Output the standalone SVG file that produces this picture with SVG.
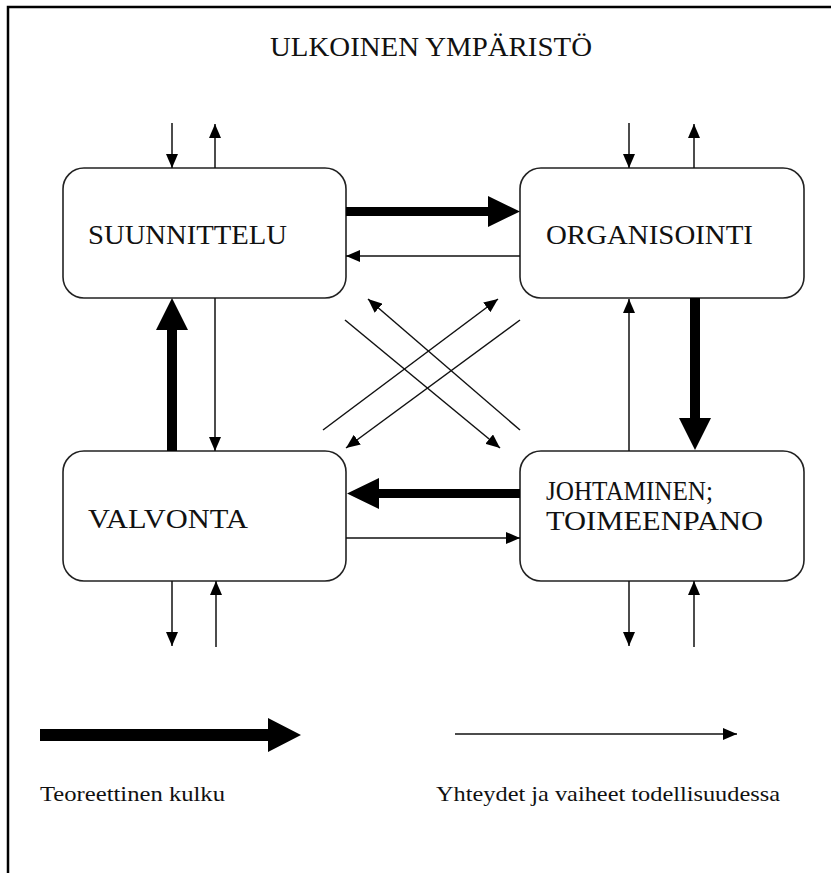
<svg xmlns="http://www.w3.org/2000/svg" width="831" height="873" viewBox="0 0 831 873">
  <style>
    .frame { fill: none; stroke: #000; stroke-width: 2.5; }
    .box { fill: #fff; stroke: #222; stroke-width: 1.6; }
    .label { font-family: "Liberation Serif", "Times New Roman", serif; font-size: 28px; fill: #111; }
    .legend { font-family: "Liberation Serif", "Times New Roman", serif; font-size: 21px; fill: #111; }
    .thin { fill: none; stroke: #111; stroke-width: 1.5; marker-end: url(#head); }
    .thick { fill: #000; stroke: none; }
  </style>
  <defs>
    <marker id="head" viewBox="0 0 14 12" refX="14" refY="6" markerWidth="14" markerHeight="12" markerUnits="userSpaceOnUse" orient="auto">
      <path d="M0,0 L14,6 L0,12 Z" fill="#000"/>
    </marker>
  </defs>

  <rect width="831" height="873" fill="#fff"/>
  <!-- page frame: top and left edges -->
  <path class="frame" d="M8,873 V7 H831"/>

  <text class="label" x="270" y="56" textLength="322" lengthAdjust="spacingAndGlyphs">ULKOINEN YMPÄRISTÖ</text>

  <g id="suunnittelu">
    <rect class="box" x="63" y="168" width="283" height="130" rx="21" ry="21"/>
    <text class="label" x="88" y="244" textLength="199" lengthAdjust="spacingAndGlyphs">SUUNNITTELU</text>
  </g>
  <g id="organisointi">
    <rect class="box" x="520" y="168" width="284" height="130" rx="21" ry="21"/>
    <text class="label" x="546" y="244" textLength="207" lengthAdjust="spacingAndGlyphs">ORGANISOINTI</text>
  </g>
  <g id="valvonta">
    <rect class="box" x="63" y="451" width="283" height="130" rx="21" ry="21"/>
    <text class="label" x="88" y="528" textLength="160" lengthAdjust="spacingAndGlyphs">VALVONTA</text>
  </g>
  <g id="johtaminen">
    <rect class="box" x="520" y="451" width="284" height="130" rx="21" ry="21"/>
    <text class="label" x="546" y="500" textLength="167" lengthAdjust="spacingAndGlyphs">JOHTAMINEN;</text>
    <text class="label" x="546" y="530" textLength="217" lengthAdjust="spacingAndGlyphs">TOIMEENPANO</text>
  </g>

  <g id="connectors">
    <!-- exchanges with the environment -->
    <line class="thin" x1="172" y1="123" x2="172" y2="168"/>
    <line class="thin" x1="215" y1="168" x2="215" y2="124"/>
    <line class="thin" x1="629" y1="123" x2="629" y2="168"/>
    <line class="thin" x1="694" y1="168" x2="694" y2="124"/>
    <line class="thin" x1="172" y1="581" x2="172" y2="646"/>
    <line class="thin" x1="216" y1="647" x2="216" y2="581"/>
    <line class="thin" x1="629" y1="581" x2="629" y2="646"/>
    <line class="thin" x1="694" y1="647" x2="694" y2="581"/>

    <!-- theoretical cycle -->
    <path class="thick" d="M346,207 H488 V196 L520,211.5 L488,227 V216 H346 Z"/>
    <path class="thick" d="M690,298 V418 H679 L695,450 L711,418 H700 V298 Z"/>
    <path class="thick" d="M520,489 H379 V478 L347,493.5 L379,509 V498 H520 Z"/>
    <path class="thick" d="M167,451 V330 H156 L172,298 L188,330 H177 V451 Z"/>

    <!-- actual links between phases -->
    <line class="thin" x1="520" y1="256" x2="346" y2="256"/>
    <line class="thin" x1="629" y1="451" x2="629" y2="299"/>
    <line class="thin" x1="346" y1="538" x2="520" y2="538"/>
    <line class="thin" x1="215" y1="298" x2="215" y2="451"/>

    <!-- diagonal links -->
    <line class="thin" x1="345" y1="320" x2="500" y2="448"/>
    <line class="thin" x1="520" y1="320" x2="346" y2="448"/>
    <line class="thin" x1="323" y1="430" x2="498" y2="299"/>
    <line class="thin" x1="520" y1="430" x2="368" y2="299"/>
  </g>

  <g id="legend">
    <path class="thick" d="M40,729 H268 V718 L301,735 L268,752 V741 H40 Z"/>
    <line class="thin" x1="455" y1="734" x2="737" y2="734"/>
    <text class="legend" x="40" y="801" textLength="185" lengthAdjust="spacingAndGlyphs">Teoreettinen kulku</text>
    <text class="legend" x="436" y="801" textLength="344" lengthAdjust="spacingAndGlyphs">Yhteydet ja vaiheet todellisuudessa</text>
  </g>
</svg>
